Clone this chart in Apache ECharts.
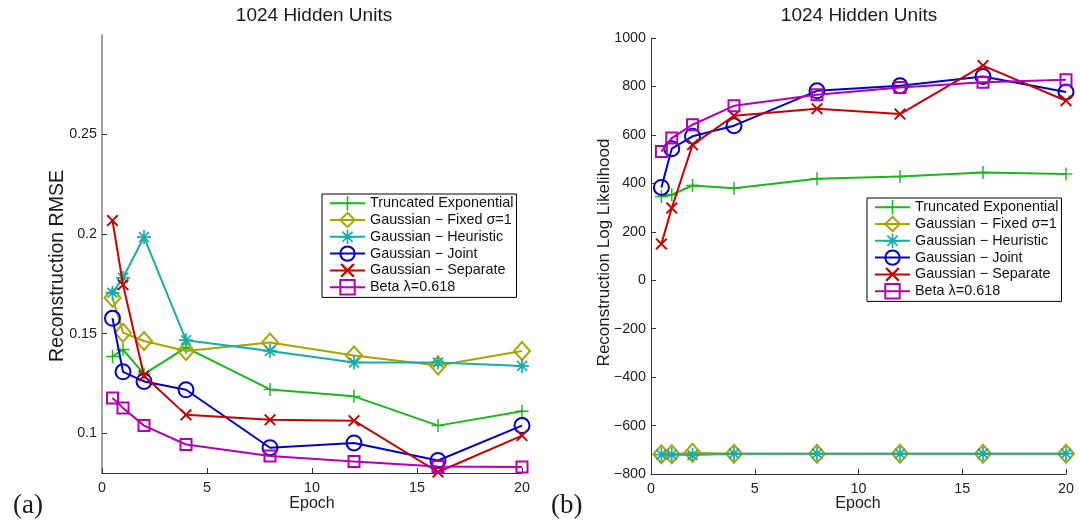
<!DOCTYPE html>
<html><head><meta charset="utf-8">
<script src="https://cdn.jsdelivr.net/npm/echarts@6/dist/echarts.min.js"></script>
<style>html,body{margin:0;padding:0;background:#fff}#c{width:1080px;height:526px}</style>
</head><body><div id="c"></div>
<script>
// ---- data ----
const epochs = [0.5, 1, 2, 4, 8, 12, 16, 20];
const seriesNames = ['Truncated Exponential', 'Gaussian \u2212 Fixed \u03c3=1', 'Gaussian \u2212 Heuristic', 'Gaussian \u2212 Joint', 'Gaussian \u2212 Separate', 'Beta \u03bb=0.618'];
// (a) Reconstruction RMSE
const rmseTruncExp  = [0.1385, 0.142, 0.1297, 0.143, 0.122, 0.1185, 0.1038, 0.111];
const rmseFixed     = [0.168, 0.1505, 0.1463, 0.1413, 0.1455, 0.139, 0.134, 0.1413];
const rmseHeuristic = [0.1705, 0.178, 0.1985, 0.1467, 0.1413, 0.1355, 0.1355, 0.1338];
const rmseJoint     = [0.1577, 0.1308, 0.126, 0.1218, 0.0927, 0.0951, 0.0863, 0.1038];
const rmseSeparate  = [0.2068, 0.1746, 0.1288, 0.1092, 0.1067, 0.1063, 0.0805, 0.0988];
const rmseBeta      = [0.1177, 0.1127, 0.1038, 0.0943, 0.0885, 0.0858, 0.0833, 0.083];
// (b) Reconstruction Log Likelihood
const llTruncExp  = [346, 353, 391, 380, 419, 428, 445, 439];
const llFixed     = [-718, -718, -712, -716, -716, -716, -716, -716];
const llHeuristic = [-720, -720, -722, -716, -716, -716, -716, -716];
const llJoint     = [383, 543, 594, 638, 782, 803, 841, 777];
const llSeparate  = [150, 298, 559, 679, 708, 686, 886, 741];
const llBeta      = [531, 587, 642, 720, 766, 796, 817, 828];
// ticks and texts
const rmseTicks = [0.1, 0.15, 0.2, 0.25];
const titleText = '1024 Hidden Units';
const xName = 'Epoch';
const yNameA = 'Reconstruction RMSE';
const yNameB = 'Reconstruction Log Likelihood';

// ---- styling ----
const colors = ['#19b819', '#aaa400', '#17abab', '#0000cc', '#c80000', '#b400b4'];
function poly(pts, rot) {
  const c = Math.cos(rot), s = Math.sin(rot);
  return pts.map((p, i) => (i ? 'L' : 'M') + (p[0]*c - p[1]*s).toFixed(3) + ',' + (p[0]*s + p[1]*c).toFixed(3)).join(' ') + ' Z';
}
function plusPts(t) { return [[-t,-1],[t,-1],[t,-t],[1,-t],[1,t],[t,t],[t,1],[-t,1],[-t,t],[-1,t],[-1,-t],[-t,-t]]; }
const plusPath = 'path://' + poly(plusPts(0.11), 0);
const xPath = 'path://' + poly(plusPts(0.13), Math.PI/4);
const starPath = 'path://' + poly(plusPts(0.12), 0) + ' ' + poly(plusPts(0.12), Math.PI/4);
const markers = [
  {symbol: plusPath, size: 13, filled: true},
  {symbol: 'diamond', size: [16, 18], filled: false},
  {symbol: starPath, size: 14, filled: true},
  {symbol: 'circle', size: 15, filled: false},
  {symbol: xPath, size: 12, filled: true},
  {symbol: 'rect', size: 11, filled: false}
];
const font = 'Liberation Sans, Arial, Helvetica, sans-serif';

function mkSeries(dataArr, gi) {
  return dataArr.map((d, i) => {
    const m = markers[i];
    return {
      name: seriesNames[i], type: 'line', xAxisIndex: gi, yAxisIndex: gi,
      data: epochs.map((e, k) => [e, d[k]]),
      symbol: m.symbol, symbolSize: m.size, showAllSymbol: true,
      lineStyle: {color: colors[i], width: 2},
      itemStyle: m.filled ? {color: colors[i], borderWidth: 0}
                          : {color: 'rgba(255,255,255,0)', borderColor: colors[i], borderWidth: 2},
      emphasis: {disabled: true}, z: 2 + i
    };
  });
}

const axisLabelStyle = {color: '#222', fontSize: 14.3, fontFamily: font};
function xAxis(gi) {
  return {
    type: 'value', gridIndex: gi, min: 0, max: 20, interval: 5,
    axisLine: {onZero: false, lineStyle: {color: '#333', width: 1}},
    axisTick: {inside: true, length: 5, lineStyle: {color: '#333'}},
    axisLabel: Object.assign({margin: 8}, axisLabelStyle),
    splitLine: {show: false}
  };
}
const legendBase = {
  orient: 'vertical', data: seriesNames, itemWidth: 35, itemHeight: 18, itemGap: 1.4,
  padding: [2, 3, 2, 7], borderColor: '#000', borderWidth: 1, borderRadius: 0,
  backgroundColor: '#fff', textStyle: {color: '#111', fontSize: 14.4, fontFamily: font},
  selectedMode: false, z: 20
};
function txt(text, x, y, size, rot, family, align) {
  return {type: 'text', x: x, y: y, rotation: rot || 0, z: 30,
    style: {text: text, fill: '#1a1a1a', font: size + 'px ' + (family || font),
            align: align || 'center', verticalAlign: 'middle'}};
}
const serif = 'Liberation Serif, Times New Roman, serif';

const chart = echarts.init(document.getElementById('c'), null, {renderer: 'canvas'});
chart.setOption({
  animation: false,
  backgroundColor: '#fff',
  graphic: [
    txt(titleText, 314, 16, 19),
    txt(titleText, 859, 16, 19),
    txt(xName, 312, 504, 16),
    txt(xName, 858, 504, 16),
    txt(yNameA, 57.5, 266, 19.5, Math.PI/2),
    txt(yNameB, 604.5, 252.5, 17, Math.PI/2),
    txt('(a)', 13, 506, 27, 0, serif, 'left'),
    txt('(b)', 551, 506, 27, 0, serif, 'left')
  ],
  grid: [
    {left: 102, right: 558, top: 35, bottom: 53},
    {left: 651, right: 14, top: 38, bottom: 52}
  ],
  legend: [
    Object.assign({left: 322, top: 194}, legendBase),
    Object.assign({left: 867, top: 198}, legendBase)
  ],
  xAxis: [xAxis(0), xAxis(1)],
  yAxis: [
    {
      type: 'value', gridIndex: 0, min: 0.08, max: 0.3,
      axisLine: {show: true, onZero: false, lineStyle: {color: '#808080', width: 1.5}},
      axisTick: {show: true, inside: true, length: 5, lineStyle: {color: '#333'}, customValues: rmseTicks},
      axisLabel: Object.assign({margin: 5, customValues: rmseTicks, formatter: v => String(+v.toFixed(2))}, axisLabelStyle),
      splitLine: {show: false}
    },
    {
      type: 'value', gridIndex: 1, min: -800, max: 1000, interval: 200,
      axisLine: {show: true, onZero: false, lineStyle: {color: '#333', width: 1}},
      axisTick: {show: true, inside: true, length: 5, lineStyle: {color: '#333'}},
      axisLabel: Object.assign({margin: 5, formatter: v => (v < 0 ? '\u2212' + (-v) : String(v))}, axisLabelStyle),
      splitLine: {show: false}
    }
  ],
  series: [].concat(
    mkSeries([rmseTruncExp, rmseFixed, rmseHeuristic, rmseJoint, rmseSeparate, rmseBeta], 0),
    mkSeries([llTruncExp, llFixed, llHeuristic, llJoint, llSeparate, llBeta], 1)
  )
});
</script>
</body></html>
